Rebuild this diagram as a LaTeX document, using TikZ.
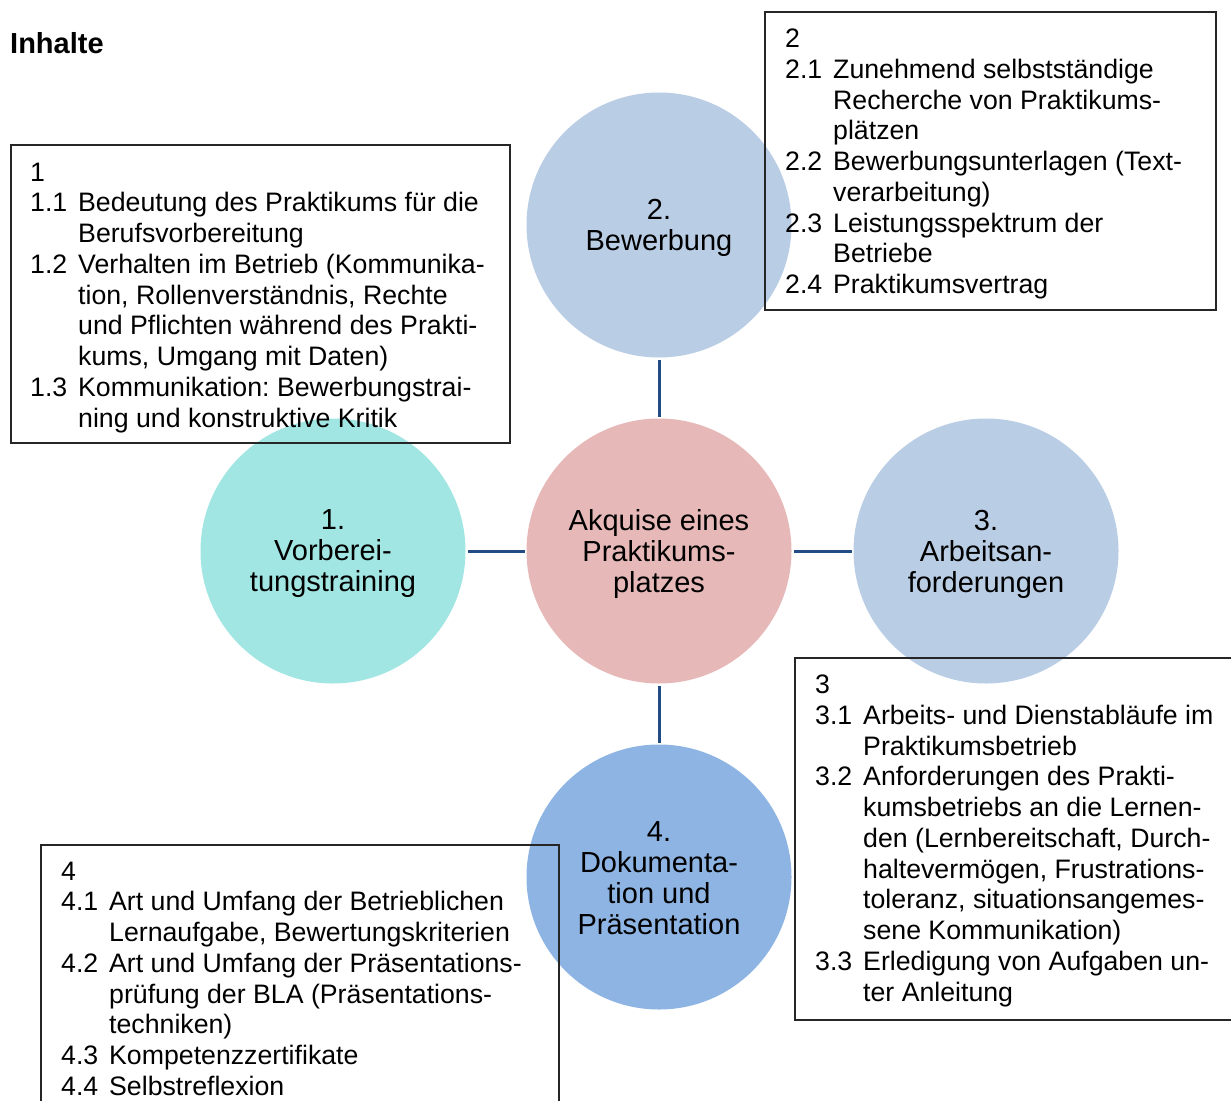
\documentclass[tikz,border=0pt]{standalone}
\usepackage{fontspec}
\setmainfont{Liberation Sans}
\usepackage{array}

\definecolor{hubpink}{HTML}{E6B9B8}
\definecolor{topicblue}{HTML}{B9CDE5}
\definecolor{topiccyan}{HTML}{A1E6E3}
\definecolor{topicdeep}{HTML}{8EB4E3}
\definecolor{linkblue}{HTML}{234C84}

% numbered sub-list: number column + text column, one row per printed line
\newcommand\sublist[1]{\begin{tabular}[t]{@{}p{48pt}@{}l@{}}#1\end{tabular}}

\begin{document}
\frenchspacing
\begin{tikzpicture}[x=1pt,y=-1pt,
  topic/.style={circle, minimum size=265pt, inner sep=0pt},
  topiclabel/.style={inner sep=0pt, align=center,
                font=\fontsize{29}{31}\selectfont},
  link/.style={draw=linkblue, line width=3pt, shorten <=2.5pt, shorten >=1.5pt},
  listframe/.style={draw=black!85, line width=1.8pt, inner sep=0pt, anchor=north west},
  listtext/.style={anchor=base west, inner sep=0pt,
                   font=\fontsize{26.7}{30.75}\selectfont},
  heading/.style={anchor=base west, inner sep=0pt,
                  font=\fontsize{29}{34}\selectfont\bfseries}]

\path[use as bounding box] (0,0) rectangle (1231,1100);
\clip (0,0) rectangle (1231,1100);

\node[heading] (title) at (10,53) {Inhalte};

% central topic and the four surrounding themes
\node[topic, fill=hubpink]   (hub) at (659,551) {};
\node[topic, fill=topicblue] (t2)  at (659,225) {};
\node[topic, fill=topiccyan] (t1)  at (333,551) {};
\node[topic, fill=topicblue] (t3)  at (986,551) {};
\node[topic, fill=topicdeep] (t4)  at (659,877) {};

\node[topiclabel] (hubtext) at ([yshift=-3pt]hub.center) {Akquise eines\\Praktikums-\\platzes};
\node[topiclabel] (t2text)  at ([yshift=-3pt]t2.center) {2.\\Bewerbung};
\node[topiclabel] (t1text)  at ([yshift=-3pt]t1.center) {1.\\Vorberei-\\tungstraining};
\node[topiclabel] (t3text)  at ([yshift=-3pt]t3.center) {3.\\Arbeitsan-\\forderungen};
\node[topiclabel] (t4text)  at ([yshift=-1pt]t4.center) {4.\\Dokumenta-\\tion und\\Präsentation};

\draw[link] (t2) -- (hub);
\draw[link] (t1) -- (hub);
\draw[link] (hub) -- (t3);
\draw[link] (hub) -- (t4);

% content boxes (unfilled frames)
\node[listframe, minimum width=499pt, minimum height=298pt] (box1) at (10,144) {};
\node[listframe, minimum width=451pt, minimum height=298pt] (box2) at (764,11) {};
\node[listframe, minimum width=460pt, minimum height=362pt] (box3) at (794,657) {};
\node[listframe, minimum width=518pt, minimum height=280pt] (box4) at (40,844) {};

\node[listtext] (list1) at (30,181) {\sublist{%
1 & \\
1.1 & Bedeutung des Praktikums für die\\
    & Berufsvorbereitung\\
1.2 & Verhalten im Betrieb (Kommunika-\\
    & tion, Rollenverständnis, Rechte\\
    & und Pflichten während des Prakti-\\
    & kums, Umgang mit Daten)\\
1.3 & Kommunikation: Bewerbungstrai-\\
    & ning und konstruktive Kritik}};

\node[listtext] (list2) at (785,47.5) {\sublist{%
2 & \\
2.1 & Zunehmend selbstständige\\
    & Recherche von Praktikums-\\
    & plätzen\\
2.2 & Bewerbungsunterlagen (Text-\\
    & verarbeitung)\\
2.3 & Leistungsspektrum der\\
    & Betriebe\\
2.4 & Praktikumsvertrag}};

\node[listtext] (list3) at (815,693.5) {\sublist{%
3 & \\
3.1 & Arbeits- und Dienstabläufe im\\
    & Praktikumsbetrieb\\
3.2 & Anforderungen des Prakti-\\
    & kumsbetriebs an die Lernen-\\
    & den (Lernbereitschaft, Durch-\\
    & haltevermögen, Frustrations-\\
    & toleranz, situationsangemes-\\
    & sene Kommunikation)\\
3.3 & Erledigung von Aufgaben un-\\
    & ter Anleitung}};

\node[listtext] (list4) at (61,880) {\sublist{%
4 & \\
4.1 & Art und Umfang der Betrieblichen\\
    & Lernaufgabe, Bewertungskriterien\\
4.2 & Art und Umfang der Präsentations-\\
    & prüfung der BLA (Präsentations-\\
    & techniken)\\
4.3 & Kompetenzzertifikate\\
4.4 & Selbstreflexion}};

\end{tikzpicture}
\end{document}
